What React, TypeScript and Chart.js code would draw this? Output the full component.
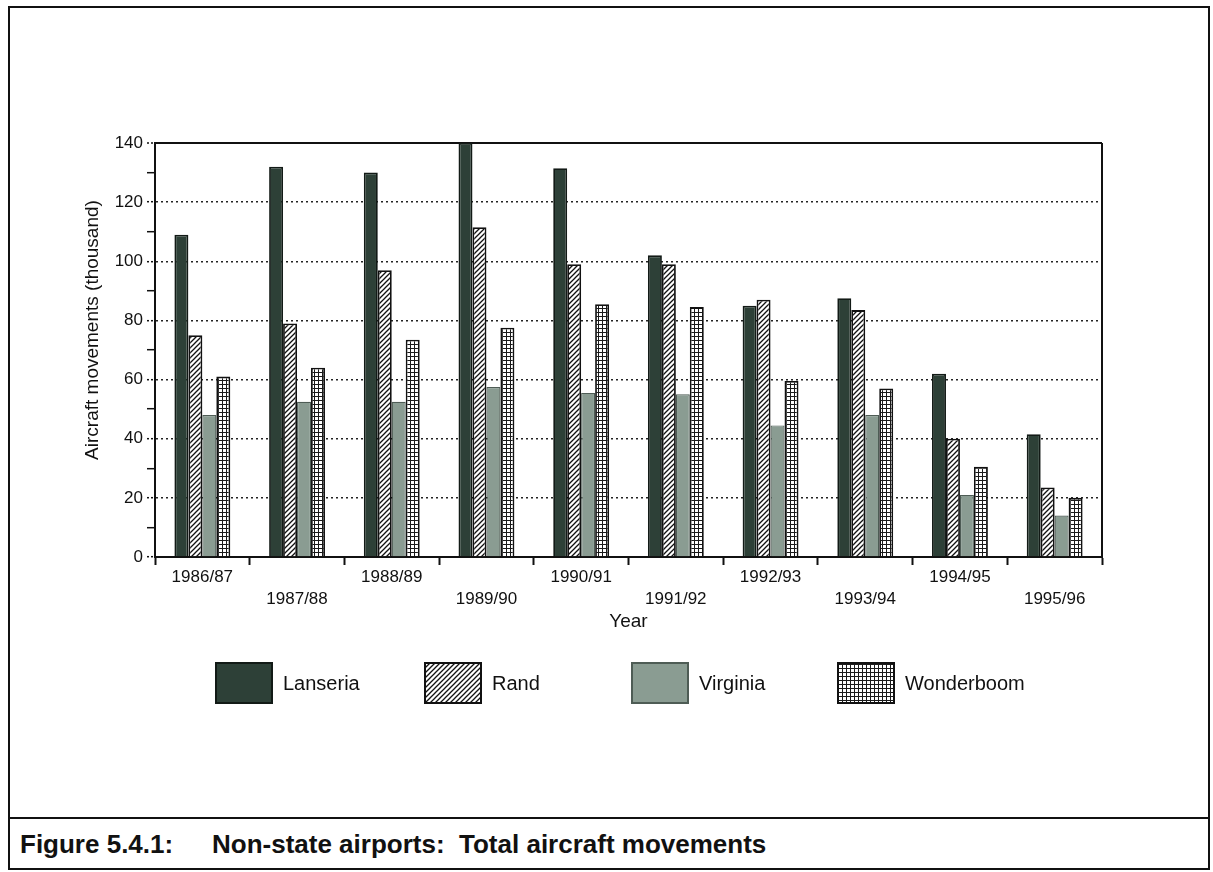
import React, { useEffect, useRef } from 'react';
import { Chart, registerables } from 'chart.js';

Chart.register(...registerables);

const years = ['1986/87', '1987/88', '1988/89', '1989/90', '1990/91', '1991/92', '1992/93', '1993/94', '1994/95', '1995/96'];
const lanseria = [109, 132, 130, 140, 131.5, 102, 85, 87.5, 62, 41.5];
const rand = [75, 79, 97, 111.5, 99, 99, 87, 83.5, 40, 23.5];
const virginia = [48, 52.5, 52.5, 57.5, 55.5, 55, 44.5, 48, 21, 14];
const wonderboom = [61, 64, 73.5, 77.5, 85.5, 84.5, 59.5, 57, 30.5, 20];
const seriesNames = ['Lanseria', 'Rand', 'Virginia', 'Wonderboom'];
const yTitle = 'Aircraft movements (thousand)';
const xTitle = 'Year';
const captionNumber = 'Figure 5.4.1:';
const captionText = 'Non-state airports:  Total aircraft movements';

const FONT = '"Liberation Sans", Arial, Helvetica, sans-serif';
const INK = '#111111';

function hatchPattern(): CanvasPattern | string {
  const c = document.createElement('canvas');
  const s = 5;
  c.width = s; c.height = s;
  const g = c.getContext('2d');
  if (!g) return '#ffffff';
  g.fillStyle = '#ffffff';
  g.fillRect(0, 0, s, s);
  g.strokeStyle = '#111111';
  g.lineWidth = 1.3;
  g.beginPath();
  g.moveTo(0, s); g.lineTo(s, 0);
  g.moveTo(-1, 1); g.lineTo(1, -1);
  g.moveTo(s - 1, s + 1); g.lineTo(s + 1, s - 1);
  g.stroke();
  return g.createPattern(c, 'repeat') || '#ffffff';
}

function gridPattern(): CanvasPattern | string {
  const c = document.createElement('canvas');
  const s = 4;
  c.width = s; c.height = s;
  const g = c.getContext('2d');
  if (!g) return '#ffffff';
  g.fillStyle = '#ffffff';
  g.fillRect(0, 0, s, s);
  g.fillStyle = '#1a1a1a';
  g.fillRect(0, 0, s, 1);
  g.fillRect(0, 0, 1, s);
  return g.createPattern(c, 'repeat') || '#ffffff';
}

const legendBoxX = [206, 415, 622, 828];

const decorPlugin = {
  id: 'decor',
  afterDraw(chart: any) {
    const { ctx, chartArea } = chart;
    ctx.save();
    ctx.strokeStyle = INK;
    ctx.lineWidth = 2;
    ctx.beginPath();
    ctx.moveTo(chartArea.right, chartArea.top);
    ctx.lineTo(chartArea.right, chartArea.bottom);
    ctx.stroke();
    ctx.save();
    ctx.font = `19px ${FONT}`;
    ctx.fillStyle = INK;
    ctx.textAlign = 'center';
    ctx.textBaseline = 'middle';
    ctx.translate(83, 322);
    ctx.rotate(-Math.PI / 2);
    ctx.fillText(yTitle, 0, 0);
    ctx.restore();
    const boxY = 655, boxW = 56, boxH = 40;
    chart.data.datasets.forEach((ds: any, i: number) => {
      const x = legendBoxX[i];
      ctx.fillStyle = ds.backgroundColor;
      ctx.fillRect(x, boxY, boxW, boxH);
      ctx.strokeStyle = ds.borderColor;
      ctx.lineWidth = 2;
      ctx.strokeRect(x, boxY, boxW, boxH);
      ctx.font = `20px ${FONT}`;
      ctx.fillStyle = INK;
      ctx.textAlign = 'left';
      ctx.textBaseline = 'middle';
      ctx.fillText(ds.label, x + 67, boxY + 21);
    });
    ctx.restore();
  },
};

export default function App() {
  const ref = useRef<HTMLCanvasElement | null>(null);

  useEffect(() => {
    if (!ref.current) return;
    const hatch = hatchPattern();
    const grid = gridPattern();
    const chart = new Chart(ref.current, {
      type: 'bar',
      data: {
        labels: years,
        datasets: [
          { label: seriesNames[0], data: lanseria, backgroundColor: '#2d4037', borderColor: '#121a16', borderWidth: 1.8 },
          { label: seriesNames[1], data: rand, backgroundColor: hatch as any, borderColor: INK, borderWidth: 1.8 },
          { label: seriesNames[2], data: virginia, backgroundColor: '#8a9c92', borderColor: '#4e5c55', borderWidth: 1.2 },
          { label: seriesNames[3], data: wonderboom, backgroundColor: grid as any, borderColor: INK, borderWidth: 1.8 },
        ],
      },
      options: {
        responsive: false,
        animation: false,
        layout: { padding: { left: 85, top: 135, right: 106, bottom: 180 } },
        plugins: { legend: { display: false }, tooltip: { enabled: false } },
        datasets: { bar: { categoryPercentage: 0.59, barPercentage: 1.0 } },
        scales: {
          x: {
            afterFit: (s: any) => { s.height = 80; },
            grid: {
              drawOnChartArea: false,
              drawTicks: true,
              tickLength: 8,
              tickColor: INK,
              tickWidth: 2,
              offset: true,
            },
            border: { display: true, color: INK, width: 2 },
            ticks: {
              autoSkip: false,
              maxRotation: 0,
              minRotation: 0,
              padding: 1,
              color: INK,
              font: { family: FONT, size: 17, lineHeight: 1.3 },
              callback: (_v: any, i: number) => (i % 2 === 0 ? years[i] : ['', years[i]]),
            },
            title: {
              display: true,
              text: xTitle,
              color: INK,
              font: { family: FONT, size: 19 },
              padding: { top: 0, bottom: 4 },
            },
          },
          y: {
            min: 0,
            max: 140,
            afterFit: (s: any) => { s.width = 60; },
            grid: {
              drawTicks: true,
              tickLength: 8,
              tickWidth: 1.5,
              tickColor: INK,
              color: (c: any) => {
                const v = c.tick ? c.tick.value : 0;
                if (v === 140) return INK;
                return v % 20 === 0 ? '#222222' : 'rgba(0,0,0,0)';
              },
              lineWidth: (c: any) => (c.tick && c.tick.value === 140 ? 2 : 1.4),
              tickBorderDash: (c: any) => (c.tick && c.tick.value % 20 === 0 ? [2, 2] : []),
            },
            border: {
              display: true,
              color: INK,
              width: 2,
              dash: (c: any) => (c.tick && c.tick.value === 140 ? [] : [2, 3]),
            },
            ticks: {
              stepSize: 10,
              padding: 4,
              color: INK,
              font: { family: FONT, size: 17 },
              callback: (v: any) => (Number(v) % 20 === 0 ? String(v) : ''),
            },
          },
        },
      },
      plugins: [decorPlugin],
    } as any);
    return () => chart.destroy();
  }, []);

  return (
    <div
      style={{
        position: 'absolute',
        left: 8,
        top: 6,
        width: 1202,
        height: 864,
        border: `2px solid ${INK}`,
        boxSizing: 'border-box',
        background: '#ffffff',
        fontFamily: FONT,
        color: INK,
      }}
    >
      <div style={{ position: 'relative', width: 1198, height: 809 }}>
        <canvas ref={ref} width={1198} height={809} style={{ display: 'block' }} />
      </div>
      <div style={{ position: 'relative', borderTop: `2px solid ${INK}`, height: 49 }}>
        <span style={{ position: 'absolute', left: 10, top: 12, fontSize: 26, lineHeight: '26px', fontWeight: 'bold', whiteSpace: 'pre' }}>
          {captionNumber}
        </span>
        <span style={{ position: 'absolute', left: 202, top: 12, fontSize: 26, lineHeight: '26px', fontWeight: 'bold', whiteSpace: 'pre' }}>
          {captionText}
        </span>
      </div>
    </div>
  );
}
